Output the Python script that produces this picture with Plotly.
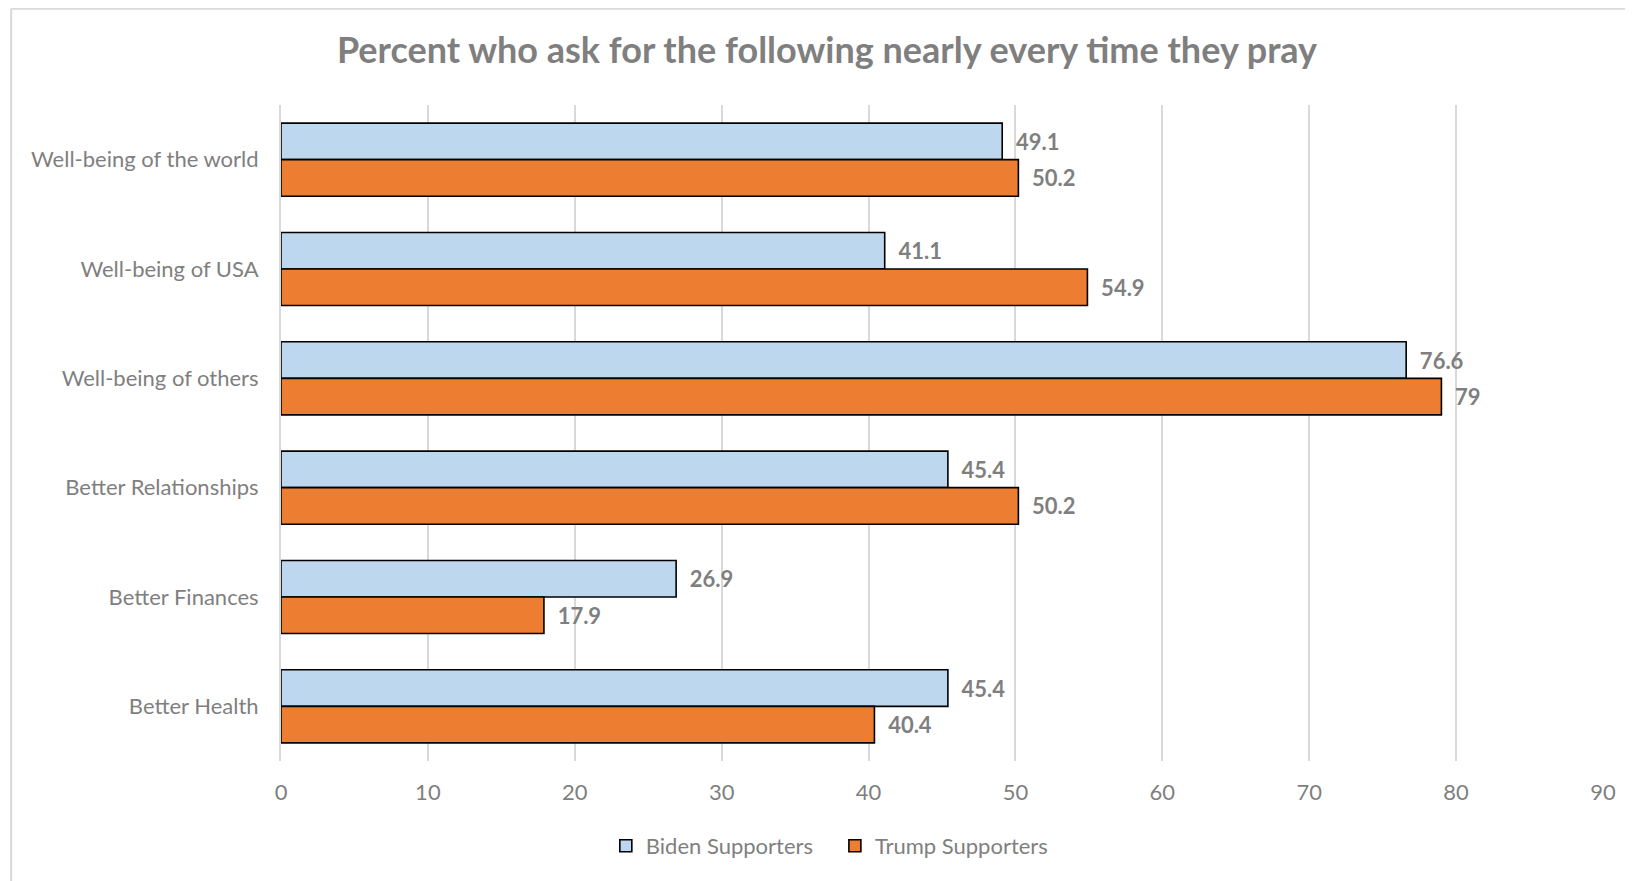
import plotly.graph_objects as go

categories = ["Well-being of the world", "Well-being of USA", "Well-being of others",
              "Better Relationships", "Better Finances", "Better Health"]
biden = [49.1, 41.1, 76.6, 45.4, 26.9, 45.4]
trump = [50.2, 54.9, 79, 50.2, 17.9, 40.4]
x_ticks = [0, 10, 20, 30, 40, 50, 60, 70, 80, 90]
series_names = ["Biden Supporters", "Trump Supporters"]

FONT = "Lato"
GRAY = "#7f7f7f"
GRID = "#d9d9d9"
PAD = "\u00a0\u00a0"

W, H = 1633, 881
PL, PR, PT, PB = 273.3, 1595.0, 97.0, 753.0
pw, ph = PR - PL, PB - PT


def px_x(p):
    return (p - PL) / pw


def px_y(p):
    return (PB - p) / ph


fig = go.Figure()
fig.add_trace(go.Bar(
    name=series_names[0] + "\u00a0\u00a0\u00a0", y=categories, x=biden, orientation="h",
    marker=dict(color="#BDD7EE", line=dict(color="black", width=1.6)),
    text=[PAD + f"{v:g}" for v in biden], textposition="outside",
    textfont=dict(family=FONT, size=22, color=GRAY, weight="bold"),
    cliponaxis=False,
))
fig.add_trace(go.Bar(
    name=series_names[1], y=categories, x=trump, orientation="h",
    marker=dict(color="#ED7D31", line=dict(color="black", width=1.6)),
    text=[PAD + f"{v:g}" for v in trump], textposition="outside",
    textfont=dict(family=FONT, size=22, color=GRAY, weight="bold"),
    cliponaxis=False,
))

fig.update_layout(
    width=W, height=H,
    margin=dict(l=PL, r=W - PR, t=PT, b=H - PB),
    paper_bgcolor="white", plot_bgcolor="white",
    barmode="group", bargap=0.332, bargroupgap=0,
    font=dict(family=FONT, color=GRAY),
    title=dict(text="<b>Percent who ask for the following nearly every time they pray</b>",
               x=819 / W, xref="container", xanchor="center",
               y=1 - 42 / H, yref="container", yanchor="middle",
               font=dict(family=FONT, size=36, color=GRAY)),
    legend=dict(orientation="h", x=px_x(822), xanchor="center",
                y=px_y(838), yanchor="middle",
                font=dict(family=FONT, size=22, color=GRAY),
                itemwidth=30, traceorder="normal"),
    xaxis=dict(range=[0, 90], tickvals=x_ticks, showgrid=True, gridcolor=GRID, gridwidth=2,
               zeroline=False, showline=False, ticks="",
               tickfont=dict(family=FONT, size=22, color=GRAY), ticklabelstandoff=16),
    yaxis=dict(autorange="reversed", showgrid=False, showline=True, linecolor=GRID, linewidth=2,
               ticks="", tickfont=dict(family=FONT, size=22, color=GRAY), ticklabelstandoff=16),
    shapes=[
        dict(type="line", xref="paper", yref="paper", x0=px_x(3.5), x1=px_x(3.5),
             y0=px_y(0.8), y1=px_y(H + 5), line=dict(color=GRID, width=2)),
        dict(type="line", xref="paper", yref="paper", x0=px_x(3.5), x1=px_x(W + 5),
             y0=px_y(0.8), y1=px_y(0.8), line=dict(color=GRID, width=2)),
    ],
)

fig.write_html("out.html")
